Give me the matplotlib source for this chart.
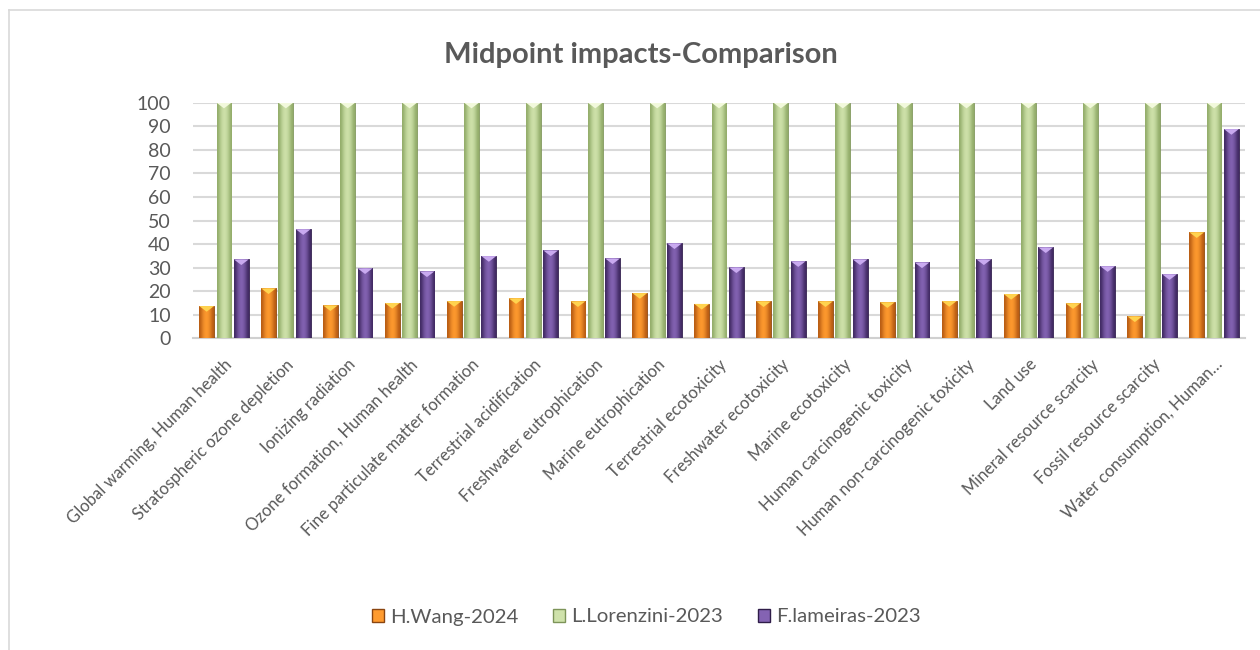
import numpy as np
import matplotlib
matplotlib.use("Agg")
import matplotlib.pyplot as plt
from matplotlib.colors import LinearSegmentedColormap
from matplotlib.patches import Polygon, Patch
from matplotlib.lines import Line2D

categories = [
    "Global warming, Human health", "Stratospheric ozone depletion",
    "Ionizing radiation", "Ozone formation, Human health",
    "Fine particulate matter formation", "Terrestrial acidification",
    "Freshwater eutrophication", "Marine eutrophication",
    "Terrestrial ecotoxicity", "Freshwater ecotoxicity", "Marine ecotoxicity",
    "Human carcinogenic toxicity", "Human non-carcinogenic toxicity",
    "Land use", "Mineral resource scarcity", "Fossil resource scarcity",
    "Water consumption, Human…",
]
wang_2024 = [13.7, 21.2, 14.0, 15.0, 15.8, 17.0, 15.7, 19.2, 14.6, 15.7,
             15.7, 15.3, 15.8, 18.8, 14.9, 9.3, 45.0]
lorenzini_2023 = [100] * 17
lameiras_2023 = [33.5, 46.3, 29.7, 28.4, 34.9, 37.3, 33.9, 40.3, 30.1, 32.7,
                 33.5, 32.2, 33.5, 38.6, 30.6, 27.2, 88.8]
series_names = ["H.Wang-2024", "L.Lorenzini-2023", "F.lameiras-2023"]

# (edge shade, centre shade, top bevel)
styles = [
    ("#b85c14", "#ff9b2f", "#ffd34f"),
    ("#93ad6a", "#cfe2ab", "#f2f9dc"),
    ("#412a63", "#8463b3", "#c9aaf0"),
]
outline = ["#8a4510", "#7d9459", "#2f1d49"]

plt.rcParams["font.family"] = ["Lato", "DejaVu Sans"]
text_color = "#595959"

fig = plt.figure(figsize=(12.6, 6.5), dpi=100)
ax = fig.add_axes([0.1532, 0.4795, 0.8349, 0.3625])

x = np.arange(len(categories))
step, width = 0.28, 0.24
grad = np.array([[0.0, 0.5, 0.85, 1.0, 0.85, 0.5, 0.0]])

for k, vals in enumerate([wang_2024, lorenzini_2023, lameiras_2023]):
    edge, mid, top = styles[k]
    cmap = LinearSegmentedColormap.from_list(f"bar{k}", [edge, mid])
    bars = ax.bar(x + (k - 1) * step, vals, width, color=mid,
                  edgecolor=outline[k], linewidth=0.6, zorder=3)
    for b in bars:
        x0, w, h = b.get_x(), b.get_width(), b.get_height()
        im = ax.imshow(grad, cmap=cmap, aspect="auto", vmin=0, vmax=1,
                       extent=(x0, x0 + w, 0, h), zorder=3.1,
                       interpolation="bicubic")
        im.set_clip_path(b)
        tri = Polygon([(x0, h), (x0 + w, h), (x0 + w / 2, h - 2.4)],
                      closed=True, facecolor=top, edgecolor="none",
                      zorder=3.2)
        ax.add_patch(tri)

ax.set_xlim(-0.5, len(categories) - 0.5)
ax.set_ylim(0, 100)
ax.set_yticks(range(0, 101, 10))
ax.grid(axis="y", color="#d9d9d9", linewidth=1.5, zorder=0)
ax.set_axisbelow(True)
for side in ["top", "right", "left"]:
    ax.spines[side].set_visible(False)
ax.spines["bottom"].set_color("#d0d0d0")
ax.spines["bottom"].set_linewidth(1.5)
ax.tick_params(axis="y", length=0, pad=16, labelsize=14,
               labelcolor=text_color)
ax.tick_params(axis="x", length=0, pad=13, labelsize=12,
               labelcolor=text_color)
ax.set_xticks(x)
ax.set_xticklabels(categories, rotation=45, ha="right",
                   rotation_mode="anchor")

fig.text(0.509, 1 - 55 / 650, "Midpoint impacts-Comparison", ha="center",
         va="center", fontsize=21, fontweight="bold", color=text_color)

handles = [Patch(facecolor=styles[i][1], edgecolor=outline[i])
           for i in range(3)]
fig.legend(handles, series_names, loc="center", ncol=3,
           bbox_to_anchor=(0.513, 1 - 617 / 650), frameon=False,
           fontsize=14.7, labelcolor=text_color, handlelength=0.6,
           handleheight=0.6, handletextpad=0.3, columnspacing=1.7)

# chart area border (only top and left edges fall inside the image)
fig.add_artist(Line2D([9 / 1260, 1], [1 - 10 / 650, 1 - 10 / 650],
                      color="#d9d9d9", linewidth=1.2))
fig.add_artist(Line2D([9 / 1260, 9 / 1260], [0, 1 - 10 / 650],
                      color="#d9d9d9", linewidth=1.2))

fig.savefig("out.png", dpi=100, facecolor="white")
